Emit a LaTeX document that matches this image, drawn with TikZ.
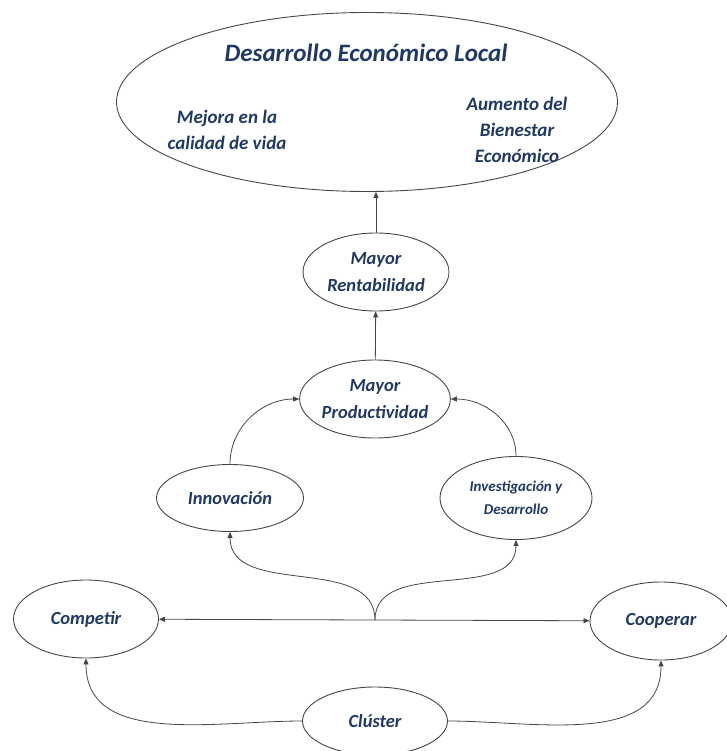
\documentclass[tikz,border=0pt]{standalone}
\usepackage{fontspec}
\setmainfont{Carlito}
\usepackage{tikz}
\usetikzlibrary{arrows.meta,shapes.geometric,positioning}
\definecolor{texto}{RGB}{32,56,100}
\definecolor{borde}{RGB}{70,70,70}

\begin{document}
\begin{tikzpicture}[x=1pt, y=-1pt, >={Triangle[length=6pt,width=5pt]},
    burbuja/.style={draw=borde, line width=0.9pt, ellipse, inner sep=0pt, align=center,
        text=texto, font=\fontsize{18.5}{27}\selectfont\bfseries\itshape},
    etiqueta/.style={text=texto, align=center, font=\fontsize{19}{26}\selectfont\bfseries\itshape},
    flecha/.style={->, draw=borde, line width=0.8pt}]
    \useasboundingbox (0,0) rectangle (726,751);

    % Desarrollo economico local
    \node[burbuja, minimum width=501pt, minimum height=179pt] (dev) at (367,102) {};
    \node[etiqueta, font=\fontsize{25}{26}\selectfont\bfseries\itshape] (titulo) at (366,53) {Desarrollo Económico Local};
    \node[etiqueta] (mejora) at (227,130) {Mejora en la\\calidad de vida};
    \node[etiqueta] (aumento) at (517,130) {Aumento del\\Bienestar\\Económico};

    % Rentabilidad y productividad
    \node[burbuja, minimum width=146pt, minimum height=78pt] (rent) at (376,272) {Mayor\\Rentabilidad};
    \node[burbuja, minimum width=146pt, minimum height=78pt] (prod) at (375,399) {Mayor\\Productividad};

    % Innovacion, I+D
    \node[burbuja, minimum width=147pt, minimum height=67pt] (inno) at (230,498) {Innovación};
    \node[burbuja, minimum width=152pt, minimum height=83pt,
        font=\fontsize{15}{23}\selectfont\bfseries\itshape] (imas) at (516,498) {Investigación y\\Desarrollo};

    % Competir, cooperar, cluster
    \node[burbuja, minimum width=145pt, minimum height=78pt] (comp) at (86,619) {Competir};
    \node[burbuja, minimum width=142pt, minimum height=78pt] (coop) at (661,621) {Cooperar};
    \node[burbuja, minimum width=145pt, minimum height=68pt] (clus) at (375,721) {Clúster};
    \coordinate (cruce) at (375,620);

    % Flechas
    \draw[flecha] (rent) -- (rent |- dev.south);
    \draw[flecha] (prod) -- (rent);
    \draw[flecha] (inno.north) to[out=90, in=180] (prod.west);
    \draw[flecha] (imas.north) to[out=90, in=0] (prod.east);
    \draw[flecha] (cruce) to[out=90, in=-90] (inno.south);
    \draw[flecha] (cruce) to[out=90, in=-90] (imas.south);
    \draw[flecha] (cruce) -- (comp);
    \draw[flecha] (cruce) -- (coop);
    \draw[flecha] (clus.west) to[out=180, in=-90] (comp.south);
    \draw[flecha] (clus.east) to[out=0, in=-90] (coop.south);
\end{tikzpicture}
\end{document}
